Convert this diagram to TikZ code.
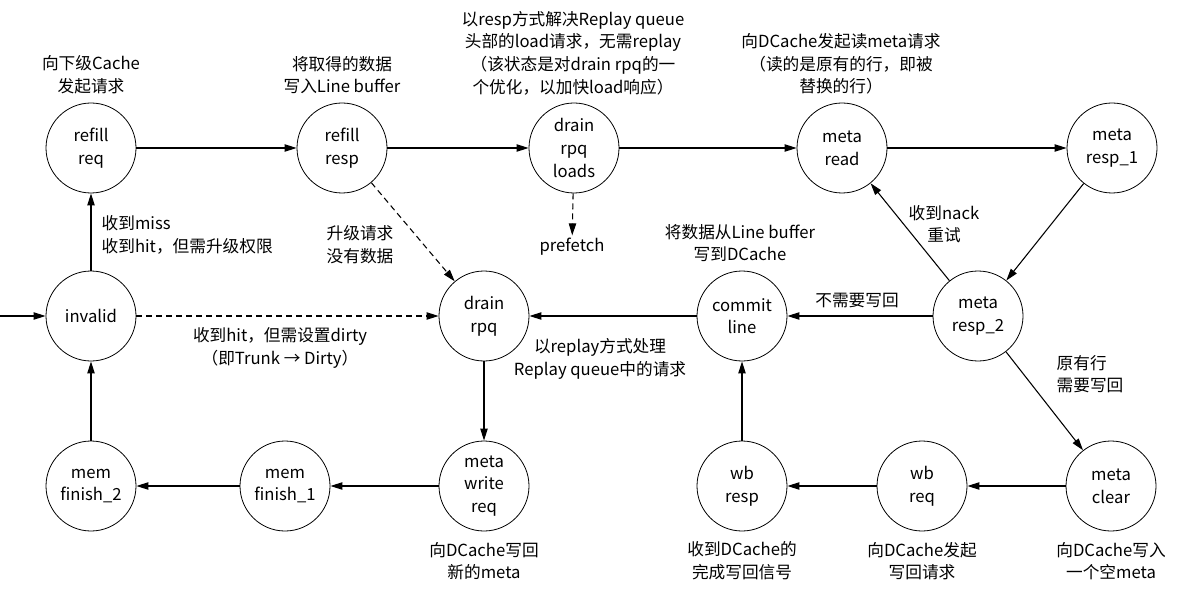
\documentclass[tikz,border=0pt]{standalone}
\usepackage{fontspec}
\setmainfont{Noto Sans CJK SC}
\usetikzlibrary{arrows.meta}
\tikzset{
  state/.style={draw,circle,line width=0.6pt,minimum size=67.5pt,inner sep=0pt,align=center,font=\fontsize{12.5}{17}\selectfont},
  note/.style={align=center,font=\fontsize{12.5}{17}\selectfont},
  link/.style={line width=0.8pt,-{Triangle[length=9pt,width=5.5pt]}},
  dashlink/.style={link,dash pattern=on 4.5pt off 3pt}
}
\begin{document}
\begin{tikzpicture}[x=0.75pt,y=-0.75pt]
      \useasboundingbox (0,0) rectangle (1184,595);
      \draw
        (91,148) node[state] (refillreq){refill\\req}
        (342,148) node[state] (refillresp){refill\\resp}
        (574,148) node[state] (drainloads){drain\\rpq\\loads}
        (842,148) node[state] (metaread){meta\\read}
        (1112,148) node[state] (metaresp1){meta\\resp\_1}
        (91,316) node[state] (invalid){invalid}
        (484,316) node[state] (drainrpq){drain\\rpq}
        (742,316) node[state] (commitline){commit\\line}
        (978,316) node[state] (metaresp2){meta\\resp\_2}
        (91,486) node[state] (memfinish2){mem\\finish\_2}
        (285,486) node[state] (memfinish1){mem\\finish\_1}
        (484,486) node[state] (metawrite){meta\\write\\req}
        (742,486) node[state] (wbresp){wb\\resp}
        (922,486) node[state] (wbreq){wb\\req}
        (1111,486) node[state] (metaclear){meta\\clear};
      \coordinate (entry) at (0,316);
      \node[note,inner sep=2pt] (prefetch) at (572,247) {prefetch};
      \node[note] (lrefillreq) at (91,75) {向下级Cache\\发起请求};
      \node[note] (lrefillresp) at (342,75) {将取得的数据\\写入Line buffer};
      \node[note] (ldrainloads) at (573,53) {以resp方式解决Replay queue\\头部的load请求，无需replay\\（该状态是对drain rpq的一\\个优化，以加快load响应）};
      \node[note] (lmetaread) at (841,64) {向DCache发起读meta请求\\（读的是原有的行，即被\\替换的行）};
      \node[note,align=left,anchor=west] (lmiss) at (97,235) {收到miss\\收到hit，但需升级权限};
      \node[note] (lupgrade) at (360,245) {升级请求\\没有数据};
      \node[note] (lcommit) at (740,243) {将数据从Line buffer\\写到DCache};
      \node[note] (lnack) at (944,224) {收到nack\\重试};
      \node[note] (lnowb) at (857,300) {不需要写回};
      \node[note,align=left,anchor=west] (lneedwb) at (1052,374) {原有行\\需要写回};
      \node[note] (ldirty) at (280,348) {收到hit，但需设置dirty\\（即Trunk → Dirty）};
      \node[note] (lreplay) at (600,359) {以replay方式处理\\Replay queue中的请求};
      \node[note] (lmetawrite) at (484,561) {向DCache写回\\新的meta};
      \node[note] (lwbresp) at (742,561) {收到DCache的\\完成写回信号};
      \node[note] (lwbreq) at (922,561) {向DCache发起\\写回请求};
      \node[note] (lmetaclear) at (1111,561) {向DCache写入\\一个空meta};
      \begin{scope}[link]
        \draw (entry) to (invalid);
        \draw (invalid) to (refillreq);
        \draw[dashlink] (invalid) to (drainrpq);
        \draw (refillreq) to (refillresp);
        \draw (refillresp) to (drainloads);
        \draw (drainloads) to (metaread);
        \draw[dashlink] (drainloads) to (prefetch);
        \draw[dashlink] (refillresp) to (drainrpq);
        \draw (metaread) to (metaresp1);
        \draw (metaresp1) to (metaresp2);
        \draw (metaresp2) to (metaread);
        \draw (metaresp2) to (commitline);
        \draw (metaresp2) to (metaclear);
        \draw (metaclear) to (wbreq);
        \draw (wbreq) to (wbresp);
        \draw (wbresp) to (commitline);
        \draw (commitline) to (drainrpq);
        \draw (drainrpq) to (metawrite);
        \draw (metawrite) to (memfinish1);
        \draw (memfinish1) to (memfinish2);
        \draw (memfinish2) to (invalid);
      \end{scope}
    \end{tikzpicture}
\end{document}
